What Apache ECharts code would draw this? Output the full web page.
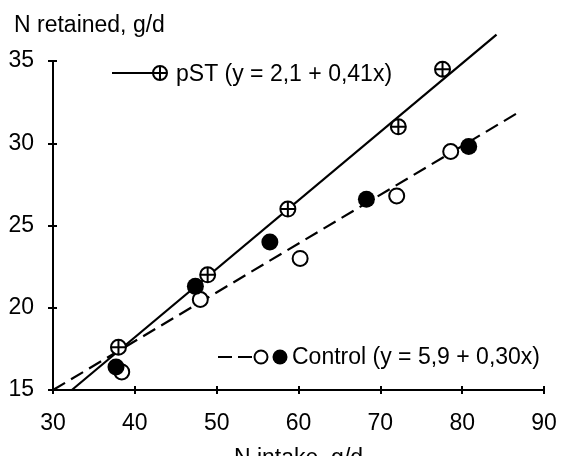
<!DOCTYPE html>
<html>
<head>
<meta charset="utf-8">
<script src="https://cdn.jsdelivr.net/npm/echarts@6/dist/echarts.min.js"></script>
<style>
html,body{margin:0;padding:0;background:#fff;}
#chart{width:562px;height:456px;}
</style>
</head>
<body>
<div id="chart"></div>
<script>
// ---- data ----
var xTicks = [30, 40, 50, 60, 70, 80, 90];
var yTicks = [15, 20, 25, 30, 35];

var pstX = [38.0, 48.9, 58.7, 72.2, 77.6];
var pstY = [17.6, 22.0, 26.0, 31.0, 34.5];

var ctrlFilledX = [37.7, 47.4, 56.5, 68.3, 80.8];
var ctrlFilledY = [16.4, 21.3, 24.0, 26.6, 29.8];

var ctrlOpenX = [38.4, 48.0, 60.2, 72.0, 78.6];
var ctrlOpenY = [16.1, 20.5, 23.0, 26.8, 29.5];

// fitted regression lines (end points as drawn)
var pstFitX = [32.3, 84.2];
var pstFitY = [15.0, 36.6];
var ctrlFitX = [30.0, 87.3];
var ctrlFitY = [15.0, 32.0];

var yTitle = 'N retained, g/d';
var xTitle = 'N intake, g/d';
var pstLabel = 'pST (y = 2,1 + 0,41x)';
var ctrlLabel = 'Control (y = 5,9 + 0,30x)';

function pairs(xs, ys){ return xs.map(function(x,i){ return [x, ys[i]]; }); }

var FONT = '"Liberation Sans", Arial, Helvetica, sans-serif';
var FS = 23;
var crossCircle = 'path://M0,-10A10,10 0 1,1 0,10A10,10 0 1,1 0,-10Z M-10,0L10,0 M0,-10L0,10';

var chart = echarts.init(document.getElementById('chart'), null, {renderer:'canvas'});

var xBase = {
  type:'value', min:xTicks[0], max:xTicks[xTicks.length-1], interval:10,
  position:'bottom', splitLine:{show:false}
};
var yBase = {
  type:'value', min:yTicks[0], max:yTicks[yTicks.length-1], interval:5,
  position:'left', splitLine:{show:false}
};

var txt = function(x, y, s, va){
  return {type:'text', x:x, y:y, z:100,
    style:{text:s, fill:'#000', fontSize:FS, fontFamily:FONT, verticalAlign:va||'middle', align:'left'}};
};

var option = {
  backgroundColor:'#fff',
  animation:false,
  grid:{left:53, right:18, top:61, bottom:66, containLabel:false, outerBoundsMode:'none'},
  xAxis:[
    Object.assign({}, xBase, {
      name:xTitle, nameLocation:'middle', nameGap:57, nameMoveOverlap:false,
      nameTextStyle:{color:'#000', fontSize:FS, fontFamily:FONT},
      axisLine:{show:true, lineStyle:{color:'#000', width:2}},
      axisTick:{show:true, inside:false, length:4, lineStyle:{color:'#000', width:2}},
      axisLabel:{color:'#000', fontSize:FS, fontFamily:FONT, margin:22}
    }),
    Object.assign({}, xBase, {
      axisLine:{show:false},
      axisTick:{show:true, inside:true, length:4, lineStyle:{color:'#000', width:2}},
      axisLabel:{show:false}
    })
  ],
  yAxis:[
    Object.assign({}, yBase, {
      axisLine:{show:true, lineStyle:{color:'#000', width:2}},
      axisTick:{show:true, inside:false, length:5, lineStyle:{color:'#000', width:2}},
      axisLabel:{color:'#000', fontSize:FS, fontFamily:FONT, margin:19}
    }),
    Object.assign({}, yBase, {
      axisLine:{show:false},
      axisTick:{show:true, inside:true, length:4, lineStyle:{color:'#000', width:2}},
      axisLabel:{show:false}
    })
  ],
  series:[
    {
      type:'line', name:'pST fit', data:pairs(pstFitX, pstFitY),
      xAxisIndex:0, yAxisIndex:0, showSymbol:false, symbol:'none', clip:false,
      lineStyle:{color:'#000', width:2.2, type:'solid'}, z:2, silent:true
    },
    {
      type:'line', name:'Control fit', data:pairs(ctrlFitX, ctrlFitY),
      xAxisIndex:0, yAxisIndex:0, showSymbol:false, symbol:'none', clip:false,
      lineStyle:{color:'#000', width:2.2, type:[14,7]}, z:2, silent:true
    },
    {
      type:'scatter', name:'pST', data:pairs(pstX, pstY),
      symbol:crossCircle, symbolSize:15,
      itemStyle:{color:'#fff', borderColor:'#000', borderWidth:2, opacity:1}, z:5
    },
    {
      type:'scatter', name:'Control open', data:pairs(ctrlOpenX, ctrlOpenY),
      symbol:'circle', symbolSize:15,
      itemStyle:{color:'#fff', borderColor:'#000', borderWidth:2, opacity:1}, z:5
    },
    {
      type:'scatter', name:'Control filled', data:pairs(ctrlFilledX, ctrlFilledY),
      symbol:'circle', symbolSize:17,
      itemStyle:{color:'#000', borderColor:'#000', borderWidth:0, opacity:1}, z:6
    }
  ],
  graphic:[
    txt(14, 26, yTitle),
    // pST legend
    {type:'line', shape:{x1:112, y1:73, x2:153, y2:73}, style:{stroke:'#000', lineWidth:2}},
    {type:'circle', shape:{cx:160, cy:73, r:7}, style:{fill:'#fff', stroke:'#000', lineWidth:2}},
    {type:'line', shape:{x1:153, y1:73, x2:167, y2:73}, style:{stroke:'#000', lineWidth:2}},
    {type:'line', shape:{x1:160, y1:66, x2:160, y2:80}, style:{stroke:'#000', lineWidth:2}},
    txt(176, 75, pstLabel),
    // Control legend
    {type:'line', shape:{x1:218, y1:357, x2:254, y2:357}, style:{stroke:'#000', lineWidth:2, lineDash:[14,6]}},
    {type:'circle', shape:{cx:261, cy:357, r:6.5}, style:{fill:'#fff', stroke:'#000', lineWidth:2}},
    {type:'circle', shape:{cx:280, cy:357, r:7.5}, style:{fill:'#000'}},
    txt(292, 358, ctrlLabel)
  ]
};
chart.setOption(option);
</script>
</body>
</html>
